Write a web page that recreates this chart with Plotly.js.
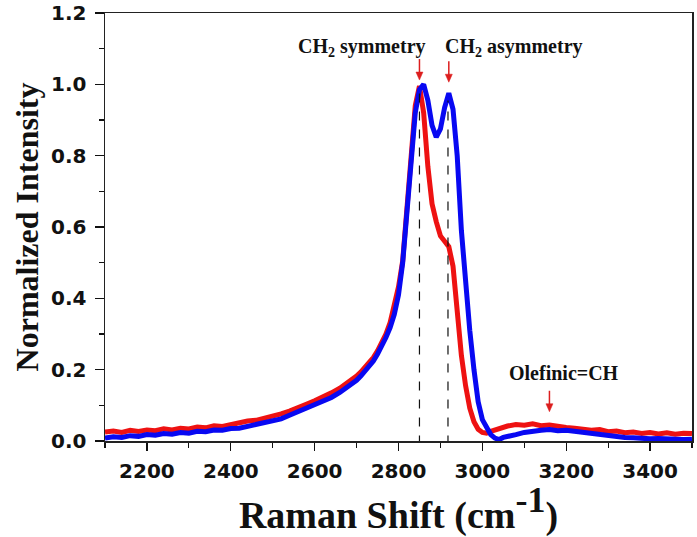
<!DOCTYPE html>
<html>
<head>
<meta charset="utf-8">
<script src="https://cdn.plot.ly/plotly-3.0.1.min.js"></script>
<style>html,body{margin:0;padding:0;background:#fff;}#chart{width:697px;height:537px;}</style>
</head>
<body>
<div id="chart"></div>
<script>
// Raman shift (cm^-1)
const ramanShift = [
  2100,2120,2140,2160,2180,2200,2220,2240,2260,2280,2300,2320,2340,2360,2380,2400,2420,2440,2460,2480,
  2500,2520,2540,2560,2580,2600,2620,2640,2660,2680,2700,
  2710,2720,2730,2740,2750,2760,2770,2780,2790,2800,2810,2820,2830,2840,2850,2860,2870,2880,2890,2900,
  2910,2920,2930,2940,2950,2960,2970,2980,2990,3000,3010,3020,3030,3040,3050,3060,
  3080,3100,3120,3140,3160,3180,3200,3220,3240,3260,3280,3300,3320,3340,3360,3380,3400,3420,3440,3460,3480,3500
];
// red spectrum
const redIntensity = [
  0.025,0.028,0.024,0.030,0.027,0.031,0.029,0.034,0.031,0.036,0.034,0.039,0.037,0.043,0.041,0.047,0.050,0.056,0.058,0.063,
  0.068,0.076,0.084,0.095,0.103,0.113,0.123,0.135,0.148,0.164,0.182,
  0.193,0.206,0.219,0.234,0.253,0.275,0.300,0.332,0.376,0.432,0.505,0.660,0.810,0.940,0.995,0.920,0.770,0.665,0.615,0.575,
  0.560,0.545,0.490,0.355,0.240,0.155,0.092,0.054,0.033,0.024,0.022,0.027,0.031,0.035,0.039,0.042,
  0.046,0.044,0.048,0.043,0.045,0.040,0.038,0.036,0.034,0.030,0.032,0.026,0.028,0.023,0.025,0.021,0.024,0.020,0.023,0.019,0.022,0.021
];
// blue spectrum
const blueIntensity = [
  0.008,0.012,0.010,0.015,0.013,0.018,0.016,0.021,0.019,0.024,0.022,0.027,0.026,0.031,0.030,0.035,0.036,0.041,0.044,0.050,
  0.055,0.062,0.072,0.082,0.090,0.100,0.110,0.122,0.136,0.152,0.170,
  0.182,0.195,0.208,0.224,0.244,0.265,0.290,0.318,0.355,0.410,0.500,0.640,0.790,0.920,0.985,1.000,0.955,0.885,0.852,0.875,
  0.935,0.975,0.930,0.800,0.590,0.430,0.310,0.200,0.110,0.060,0.035,0.018,0.008,0.004,0.010,0.012,
  0.018,0.024,0.028,0.030,0.032,0.029,0.030,0.027,0.024,0.020,0.018,0.014,0.013,0.010,0.009,0.007,0.006,0.007,0.005,0.006,0.004,0.005
];
// peak markers (dashed lines) and arrow targets
const peakShift = [2850, 2918];
const peakTop = [0.985, 0.955];
const arrowShift = [2850, 2920, 3160];
const arrowTip = [1.012, 1.006, 0.082];
// axis ticks
const xTickVals = [2200,2400,2600,2800,3000,3200,3400];
const yTickVals = [0.0,0.2,0.4,0.6,0.8,1.0,1.2];
const yTickText = ['0.0','0.2','0.4','0.6','0.8','1.0','1.2'];

const traces = [
  {x: ramanShift, y: redIntensity, type: 'scatter', mode: 'lines',
   line: {color: 'rgb(238,18,18)', width: 5}, showlegend: false},
  {x: ramanShift, y: blueIntensity, type: 'scatter', mode: 'lines',
   line: {color: 'rgb(8,8,242)', width: 5}, showlegend: false}
];

const shapes = peakShift.map((px, i) => ({
  type: 'line', xref: 'x', yref: 'y', x0: px, x1: px, y0: -0.01, y1: peakTop[i],
  line: {color: '#111', width: 1.2, dash: 'dash'}, layer: 'above'
}));
const arrowColor = 'rgb(220,30,30)';
arrowShift.forEach((ax, i) => {
  shapes.push({type: 'line', xref: 'x', yref: 'y', xsizemode: 'pixel', ysizemode: 'pixel',
    xanchor: ax, yanchor: arrowTip[i], x0: 0, x1: 0, y0: 6, y1: 21,
    line: {color: arrowColor, width: 1.5}, layer: 'above'});
  shapes.push({type: 'path', xref: 'x', yref: 'y', xsizemode: 'pixel', ysizemode: 'pixel',
    xanchor: ax, yanchor: arrowTip[i], path: 'M 0 0 L -3.5 8 L 3.5 8 Z',
    fillcolor: arrowColor, line: {color: arrowColor, width: 0.5}, layer: 'above'});
});

const annFont = {family: 'Liberation Serif, Times New Roman, serif', size: 20, color: '#111', weight: 'bold'};
const annotations = [
  {xref: 'paper', yref: 'paper', x: 0.437, y: 1.0, xanchor: 'center', yanchor: 'top', yshift: -20,
   text: 'CH<sub>2</sub> symmetry', showarrow: false, font: annFont},
  {xref: 'paper', yref: 'paper', x: 0.697, y: 1.0, xanchor: 'center', yanchor: 'top', yshift: -20,
   text: 'CH<sub>2</sub> asymmetry', showarrow: false, font: annFont},
  {xref: 'x', yref: 'y', x: 3195, y: 0.19, xanchor: 'center', yanchor: 'middle',
   text: 'Olefinic=CH', showarrow: false, font: annFont}
];

const tickFont = {family: 'DejaVu Sans, Arial, sans-serif', size: 20, color: '#111', weight: 'bold'};

const layout = {
  width: 697, height: 537,
  margin: {l: 105, r: 5, t: 13, b: 96},
  paper_bgcolor: '#fff', plot_bgcolor: '#fff',
  showlegend: false,
  xaxis: {
    range: [2100, 3500], tickvals: xTickVals, ticks: 'outside', ticklen: 8, tickwidth: 1.3, tickcolor: '#111',
    minor: {dtick: 100, tick0: 2100, ticks: 'outside', ticklen: 5, tickwidth: 1.2, tickcolor: '#111'},
    showline: true, linecolor: '#222', linewidth: 1.5, mirror: true, showgrid: false, zeroline: false,
    tickfont: tickFont, ticklabelstandoff: 3,
    title: {text: 'Raman Shift (cm<sup><span style="font-size:36px">-1</span></sup>)', standoff: 12,
      font: {family: 'Liberation Serif, Times New Roman, serif', size: 38, color: '#111', weight: 'bold'}}
  },
  yaxis: {
    range: [0, 1.2], tickvals: yTickVals, ticktext: yTickText, ticks: 'outside', ticklen: 9, tickwidth: 1.3, tickcolor: '#111',
    minor: {dtick: 0.1, tick0: 0, ticks: 'outside', ticklen: 5, tickwidth: 1.2, tickcolor: '#111'},
    showline: true, linecolor: '#222', linewidth: 1.5, mirror: true, showgrid: false, zeroline: false,
    tickfont: tickFont, ticklabelstandoff: 4,
    title: {text: 'Normalized Intensity', standoff: 3,
      font: {family: 'Liberation Serif, Times New Roman, serif', size: 32, color: '#111', weight: 'bold'}}
  },
  shapes: shapes,
  annotations: annotations
};

Plotly.newPlot('chart', traces, layout, {displayModeBar: false, staticPlot: true});
</script>
</body>
</html>
